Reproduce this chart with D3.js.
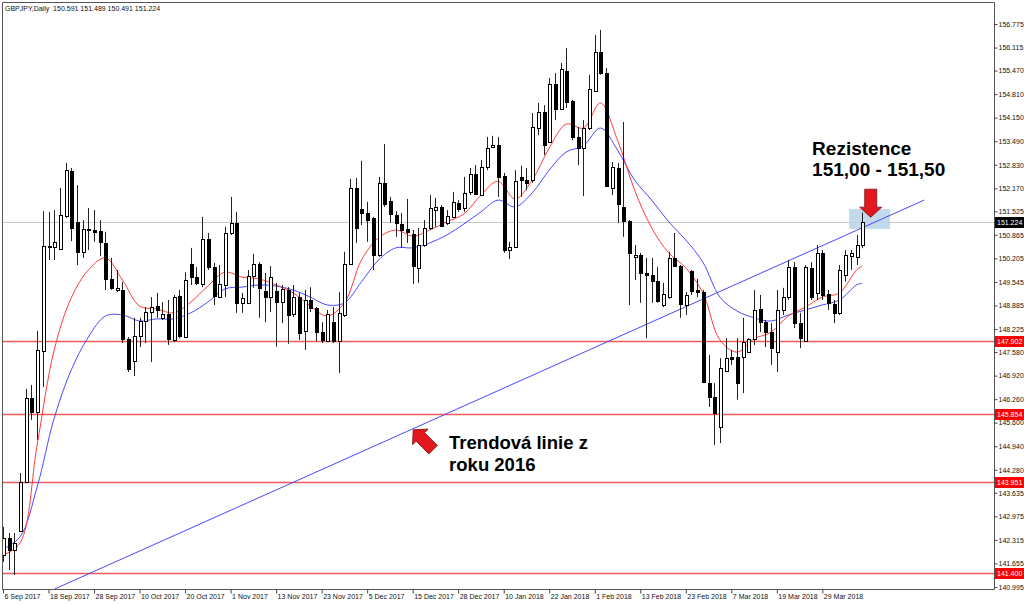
<!DOCTYPE html>
<html><head><meta charset="utf-8">
<script src="https://cdn.jsdelivr.net/npm/d3@7"></script>
<style>body{margin:0;background:#fff}svg{display:block}</style>
</head><body><svg id="c" width="1024" height="604"></svg>
<script>
const title = "GBPJPY,Daily  150.591 151.489 150.491 151.224";
const open = [141.89,142.37,142.03,142.57,143.94,146.29,145.90,147.61,150.55,150.53,
150.47,151.39,152.66,151.23,150.39,151.03,151.00,150.97,150.64,149.63,
149.32,149.32,147.95,147.33,148.03,148.45,148.71,148.87,148.54,148.65,
147.92,149.15,148.00,150.05,149.68,149.49,150.75,149.96,149.12,149.46,
150.92,151.20,148.96,148.96,149.71,150.05,149.29,149.12,149.29,148.98,
149.32,148.65,149.12,148.17,149.04,148.82,148.14,147.89,148.42,147.89,
148.62,150.05,152.18,151.59,151.48,151.34,150.30,152.32,151.81,151.42,
151.17,151.03,150.89,149.94,150.58,151.06,151.56,151.65,151.20,151.37,
151.76,151.62,152.07,152.57,151.98,152.77,153.33,153.38,152.52,150.44,
150.53,152.49,152.40,152.40,153.86,154.31,153.47,155.09,154.39,155.46,
154.62,153.61,153.30,153.86,154.90,155.99,155.40,152.18,152.74,151.65,
151.25,150.25,150.30,149.80,149.74,149.57,148.90,149.12,150.22,149.99,
148.90,149.85,149.32,149.26,146.71,146.32,145.48,147.05,147.44,147.44,
147.44,147.58,147.95,148.79,148.42,148.14,147.58,148.76,149.12,149.96,
148.39,147.89,149.94,149.24,150.36,149.21,148.93,148.68,149.74,150.27,
150.25,150.591];
const high = [142.68,142.51,142.51,144.19,146.55,146.66,148.17,151.53,151.51,151.56,
152.18,152.88,152.74,152.26,151.28,151.62,151.56,151.28,150.95,150.22,
149.88,149.54,148.00,148.54,148.54,148.84,149.12,149.24,148.98,149.04,
149.18,149.32,149.82,150.50,149.96,151.37,150.92,150.08,150.02,151.09,
151.93,151.51,149.24,149.88,150.33,150.10,149.80,149.99,149.52,149.46,
149.40,149.46,149.24,149.32,149.40,148.84,148.42,148.76,148.84,149.26,
150.39,152.43,152.46,152.94,151.79,151.37,152.49,153.41,151.93,151.53,
151.48,151.87,151.00,151.06,151.28,151.98,151.90,151.70,151.56,152.07,
151.84,152.49,152.74,152.82,152.96,153.61,153.64,153.61,152.60,150.67,
152.68,152.80,152.74,154.28,154.56,154.50,155.26,155.40,155.68,156.10,
154.65,153.89,154.08,155.35,156.47,156.61,155.54,152.91,152.88,154.03,
151.28,150.58,150.36,150.22,150.22,149.96,149.52,150.39,150.92,150.02,
149.26,149.88,149.63,149.32,147.50,146.71,147.41,147.97,147.64,147.97,
148.54,147.97,149.32,149.18,148.48,148.39,149.32,149.38,150.16,150.10,
148.68,150.02,150.10,150.58,150.44,149.32,149.04,150.02,150.44,150.44,
150.86,151.489];
const low = [141.70,141.47,141.33,142.54,143.91,145.68,145.12,146.60,150.16,150.16,
150.44,151.34,150.69,150.02,150.22,150.44,150.67,150.27,149.32,149.32,
149.26,147.83,147.02,146.91,147.72,147.83,147.30,148.54,148.48,147.78,
147.86,147.97,147.97,149.46,149.46,149.40,149.88,148.90,149.10,149.12,
150.86,148.68,148.68,148.96,149.38,148.54,148.42,148.70,147.73,148.39,
147.81,148.56,147.92,147.64,148.70,147.89,147.83,147.86,147.83,146.99,
148.56,150.02,150.64,151.14,150.67,149.88,150.25,151.65,151.20,150.81,
150.50,150.64,149.49,149.52,150.53,151.00,151.09,151.09,151.14,151.34,
151.51,151.51,151.98,151.98,151.98,152.68,153.30,151.93,150.36,150.19,
150.50,151.93,152.12,152.32,153.66,153.10,153.44,154.08,154.37,154.42,
153.52,152.82,151.95,153.80,154.87,155.35,152.21,151.98,151.20,150.81,
148.90,149.60,148.96,147.97,148.96,148.96,148.84,149.07,149.96,148.54,
148.62,149.18,149.12,146.71,146.04,144.98,145.03,147.02,147.22,146.24,
146.43,147.55,147.78,148.14,147.72,147.22,147.02,148.62,149.04,148.25,
147.69,147.86,149.04,149.04,149.04,148.76,148.39,148.62,149.55,149.88,
150.02,150.491];
const close = [142.37,142.03,142.23,143.94,146.29,145.90,147.64,150.55,150.53,150.67,
151.42,152.68,151.06,150.39,151.03,151.00,150.95,150.67,149.63,149.38,
149.38,147.95,147.10,148.03,148.45,148.71,148.84,148.76,148.65,147.95,
149.12,148.03,149.60,149.68,149.52,150.75,149.96,149.15,149.49,150.92,
151.20,148.96,149.10,149.71,150.05,149.38,149.12,149.68,148.98,149.35,
148.62,149.12,148.11,149.04,148.82,148.14,147.92,148.65,147.89,148.68,
150.05,152.18,151.06,151.48,151.28,150.30,152.32,151.73,151.45,151.20,
151.00,150.95,149.99,150.58,151.06,151.62,151.65,151.11,151.39,151.79,
151.59,152.04,152.57,152.01,152.77,153.30,153.38,152.49,150.44,150.53,
152.37,152.40,152.32,153.89,154.31,153.38,155.09,154.39,155.51,154.59,
153.61,153.30,153.86,154.95,155.99,155.40,152.23,152.77,151.73,151.25,
150.36,150.30,149.80,149.74,149.57,149.01,149.21,150.22,149.99,148.93,
149.18,149.29,149.26,146.74,146.32,145.87,147.13,147.41,147.39,146.71,
147.86,147.95,148.76,148.42,148.14,147.69,148.76,149.12,149.96,148.39,
147.98,149.96,149.12,150.36,149.18,148.96,148.68,149.88,150.30,150.36,
150.58,151.224];
const maBars = [0,3,6,9,12,15,18,21,24,27,30,33,36,39,42,45,48,51,54,57,60,63,66,69,72,75,78,81,84,87,90,93,96,99,102,105,108,111,114,117,120,123,126,129,132,135,138,141,144,147,150,151];
const maFast = [141.89,142.23,144.98,147.64,149.10,149.88,150.22,149.60,148.87,148.79,148.68,148.98,149.43,149.82,149.68,149.63,149.46,149.24,148.87,148.59,148.96,150.16,150.78,151.00,150.83,151.00,151.23,151.45,151.98,152.37,151.87,152.40,153.30,153.97,153.86,154.56,153.52,152.12,151.06,150.36,149.94,149.24,147.92,147.58,147.95,148.14,148.59,148.84,149.12,149.24,149.88,149.99];
const maSlow = [142.06,142.40,143.80,145.73,147.08,148.00,148.59,148.62,148.45,148.51,148.51,148.68,148.98,149.35,149.40,149.46,149.43,149.32,149.12,148.90,148.96,149.55,150.16,150.50,150.50,150.64,150.86,151.17,151.51,151.84,151.65,152.04,152.68,153.19,153.36,153.86,153.24,152.40,151.84,151.23,150.72,150.10,149.12,148.73,148.54,148.45,148.62,148.76,148.90,149.04,149.46,149.51];
const priceTicks = [156.775,156.115,155.470,154.810,154.150,153.490,152.830,152.170,151.525,150.865,150.205,149.545,148.885,148.225,147.580,146.920,146.260,145.600,144.940,144.280,143.635,142.975,142.315,141.655,140.995];
const dateTickBars = [0,8,16,24,32,40,48,56,64,72,80,88,96,104,112,120,128,136,144];
const dateTickLabels = ["6 Sep 2017","18 Sep 2017","28 Sep 2017","10 Oct 2017","20 Oct 2017","1 Nov 2017","13 Nov 2017","23 Nov 2017","5 Dec 2017","15 Dec 2017","28 Dec 2017","10 Jan 2018","22 Jan 2018","1 Feb 2018","13 Feb 2018","23 Feb 2018","7 Mar 2018","19 Mar 2018","29 Mar 2018"];
const levels = [147.902,145.854,143.951,141.400];
const lastPrice = 151.224;
const trendBars = [9.1,161.9];
const trendPrices = [140.94,151.84];
const zoneBars = [148.7,155.9];
const zonePrices = [151.03,151.59];
const noteResist = ["Rezistence","151,00 - 151,50"];
const noteTrend = ["Trendová linie z","roku 2016"];

const svg = d3.select("#c");
const L = 2, T = 2, R = 994, B = 589;
const x = d3.scaleLinear().domain([0,151]).range([3, 3+5.69*151]);
const y = d3.scaleLinear().domain([140.995,156.775]).range([587,24]);
const F = "'Liberation Sans', Arial, sans-serif";

svg.append("defs").append("clipPath").attr("id","pc")
  .append("rect").attr("x",L).attr("y",T).attr("width",R-L).attr("height",B-T);
const g = svg.append("g").attr("clip-path","url(#pc)");

// level lines
g.append("line").attr("x1",L).attr("x2",R).attr("y1",Math.round(y(lastPrice))+0.5).attr("y2",Math.round(y(lastPrice))+0.5)
  .attr("stroke","#c8c8c8").attr("stroke-width",1);
g.selectAll(".lvl").data(levels).join("line")
  .attr("x1",L).attr("x2",R).attr("y1",d=>Math.round(y(d))+0.5).attr("y2",d=>Math.round(y(d))+0.5)
  .attr("stroke","#f05a5a").attr("stroke-width",1.3);

// zone
g.append("rect").attr("x",x(zoneBars[0])).attr("width",x(zoneBars[1])-x(zoneBars[0]))
  .attr("y",y(zonePrices[1])).attr("height",y(zonePrices[0])-y(zonePrices[1]))
  .attr("fill","#b9d4ea").attr("opacity",0.85);

// trend line
g.append("line").attr("x1",x(trendBars[0])).attr("y1",y(trendPrices[0]))
  .attr("x2",x(trendBars[1])).attr("y2",y(trendPrices[1]))
  .attr("stroke","#4848ff").attr("stroke-width",1);

// moving averages
const lineGen = d3.line().x(d=>x(d[0])).y(d=>y(d[1])).curve(d3.curveCatmullRom.alpha(0.5));
g.append("path").attr("d",lineGen(maBars.map((b,i)=>[b,maSlow[i]])))
  .attr("fill","none").attr("stroke","#4a4aff").attr("stroke-width",1);
g.append("path").attr("d",lineGen(maBars.map((b,i)=>[b,maFast[i]])))
  .attr("fill","none").attr("stroke","#ff3a3a").attr("stroke-width",1);

// candles
const idx = d3.range(open.length);
const cg = g.append("g");
idx.forEach(i=>{
  const X = Math.round(x(i));
  cg.append("line").attr("x1",X+0.5).attr("x2",X+0.5)
    .attr("y1",y(high[i])).attr("y2",y(low[i])).attr("stroke","#222").attr("stroke-width",1);
  const top = Math.round(y(Math.max(open[i],close[i])));
  const bot = Math.round(y(Math.min(open[i],close[i])));
  const up = close[i] >= open[i];
  cg.append("rect").attr("x",X-0.5).attr("width",3)
    .attr("y",top+0.5).attr("height",Math.max(0,bot-top))
    .attr("fill",up?"#fff":"#000").attr("stroke","#000").attr("stroke-width",1);
});

// frame
svg.append("path").attr("d",`M${L+0.5},${B+0.5}V${T+0.5}H${R+0.5}V${B+0.5}H${L+0.5}`)
  .attr("fill","none").attr("stroke","#555").attr("stroke-width",1);

// right axis
const ay = svg.append("g").attr("transform",`translate(${R+0.5},0)`)
  .call(d3.axisRight(y).tickValues(priceTicks).tickSize(3).tickSizeOuter(0).tickFormat(d3.format(".3f")));
ay.select(".domain").remove();
ay.selectAll("line").attr("stroke","#444");
ay.selectAll("text").attr("x",4).attr("font-family",F).attr("font-size","7px").attr("fill","#111");

// bottom axis
const ax = svg.append("g").attr("transform",`translate(0,${B+0.5})`)
  .call(d3.axisBottom(x).tickValues(dateTickBars).tickSize(4).tickSizeOuter(0).tickFormat((d,i)=>dateTickLabels[i]));
ax.select(".domain").remove();
ax.selectAll("line").attr("stroke","#444");
ax.selectAll("text").attr("text-anchor","start").attr("x",1).attr("y",5)
  .attr("font-family",F).attr("font-size","7px").attr("fill","#111");

// price boxes
const boxes = levels.map(v=>({v,bg:"#ff0000"})).concat([{v:lastPrice,bg:"#000"}]);
const bx = svg.append("g");
boxes.forEach(b=>{
  const yy = Math.round(y(b.v));
  bx.append("rect").attr("x",R+1).attr("y",yy-5).attr("width",1024-R-1).attr("height",11).attr("fill",b.bg);
  bx.append("text").attr("x",R+3).attr("y",yy+3).attr("font-family",F).attr("font-size","7px")
    .attr("fill","#fff").text(d3.format(".3f")(b.v));
});

// title
svg.append("text").attr("x",5).attr("y",11).attr("font-family",F).attr("font-size","7px")
  .attr("fill","#111").attr("xml:space","preserve").style("white-space","pre").text(title);

// annotations
const arrowPts = [[-6,-28],[6,-28],[6,-10],[11,-10],[0,0],[-11,-10],[-6,-10]];
svg.append("polygon").attr("points",arrowPts.map(p=>p.join(",")).join(" "))
  .attr("transform",`translate(${x(152.5)},${y(151.36)})`)
  .attr("fill","#e3171d").attr("stroke","#7a0c0c").attr("stroke-width",0.8);
svg.append("polygon").attr("points",arrowPts.map(p=>p.join(",")).join(" "))
  .attr("transform",`translate(${x(72.1)},${y(145.40)}) rotate(135)`)
  .attr("fill","#e3171d").attr("stroke","#7a0c0c").attr("stroke-width",0.8);

const t1 = svg.append("text").attr("font-family",F).attr("font-weight","bold").attr("font-size","19px").attr("fill","#000");
t1.append("tspan").attr("x",x(142.2)).attr("y",y(153.10)).text(noteResist[0]);
t1.append("tspan").attr("x",x(142.2)).attr("y",y(152.51)).text(noteResist[1]);
const t2 = svg.append("text").attr("font-family",F).attr("font-weight","bold").attr("font-size","18.5px").attr("fill","#000");
t2.append("tspan").attr("x",x(78.4)).attr("y",y(144.86)).text(noteTrend[0]);
t2.append("tspan").attr("x",x(78.4)).attr("y",y(144.24)).text(noteTrend[1]);
</script></body></html>
